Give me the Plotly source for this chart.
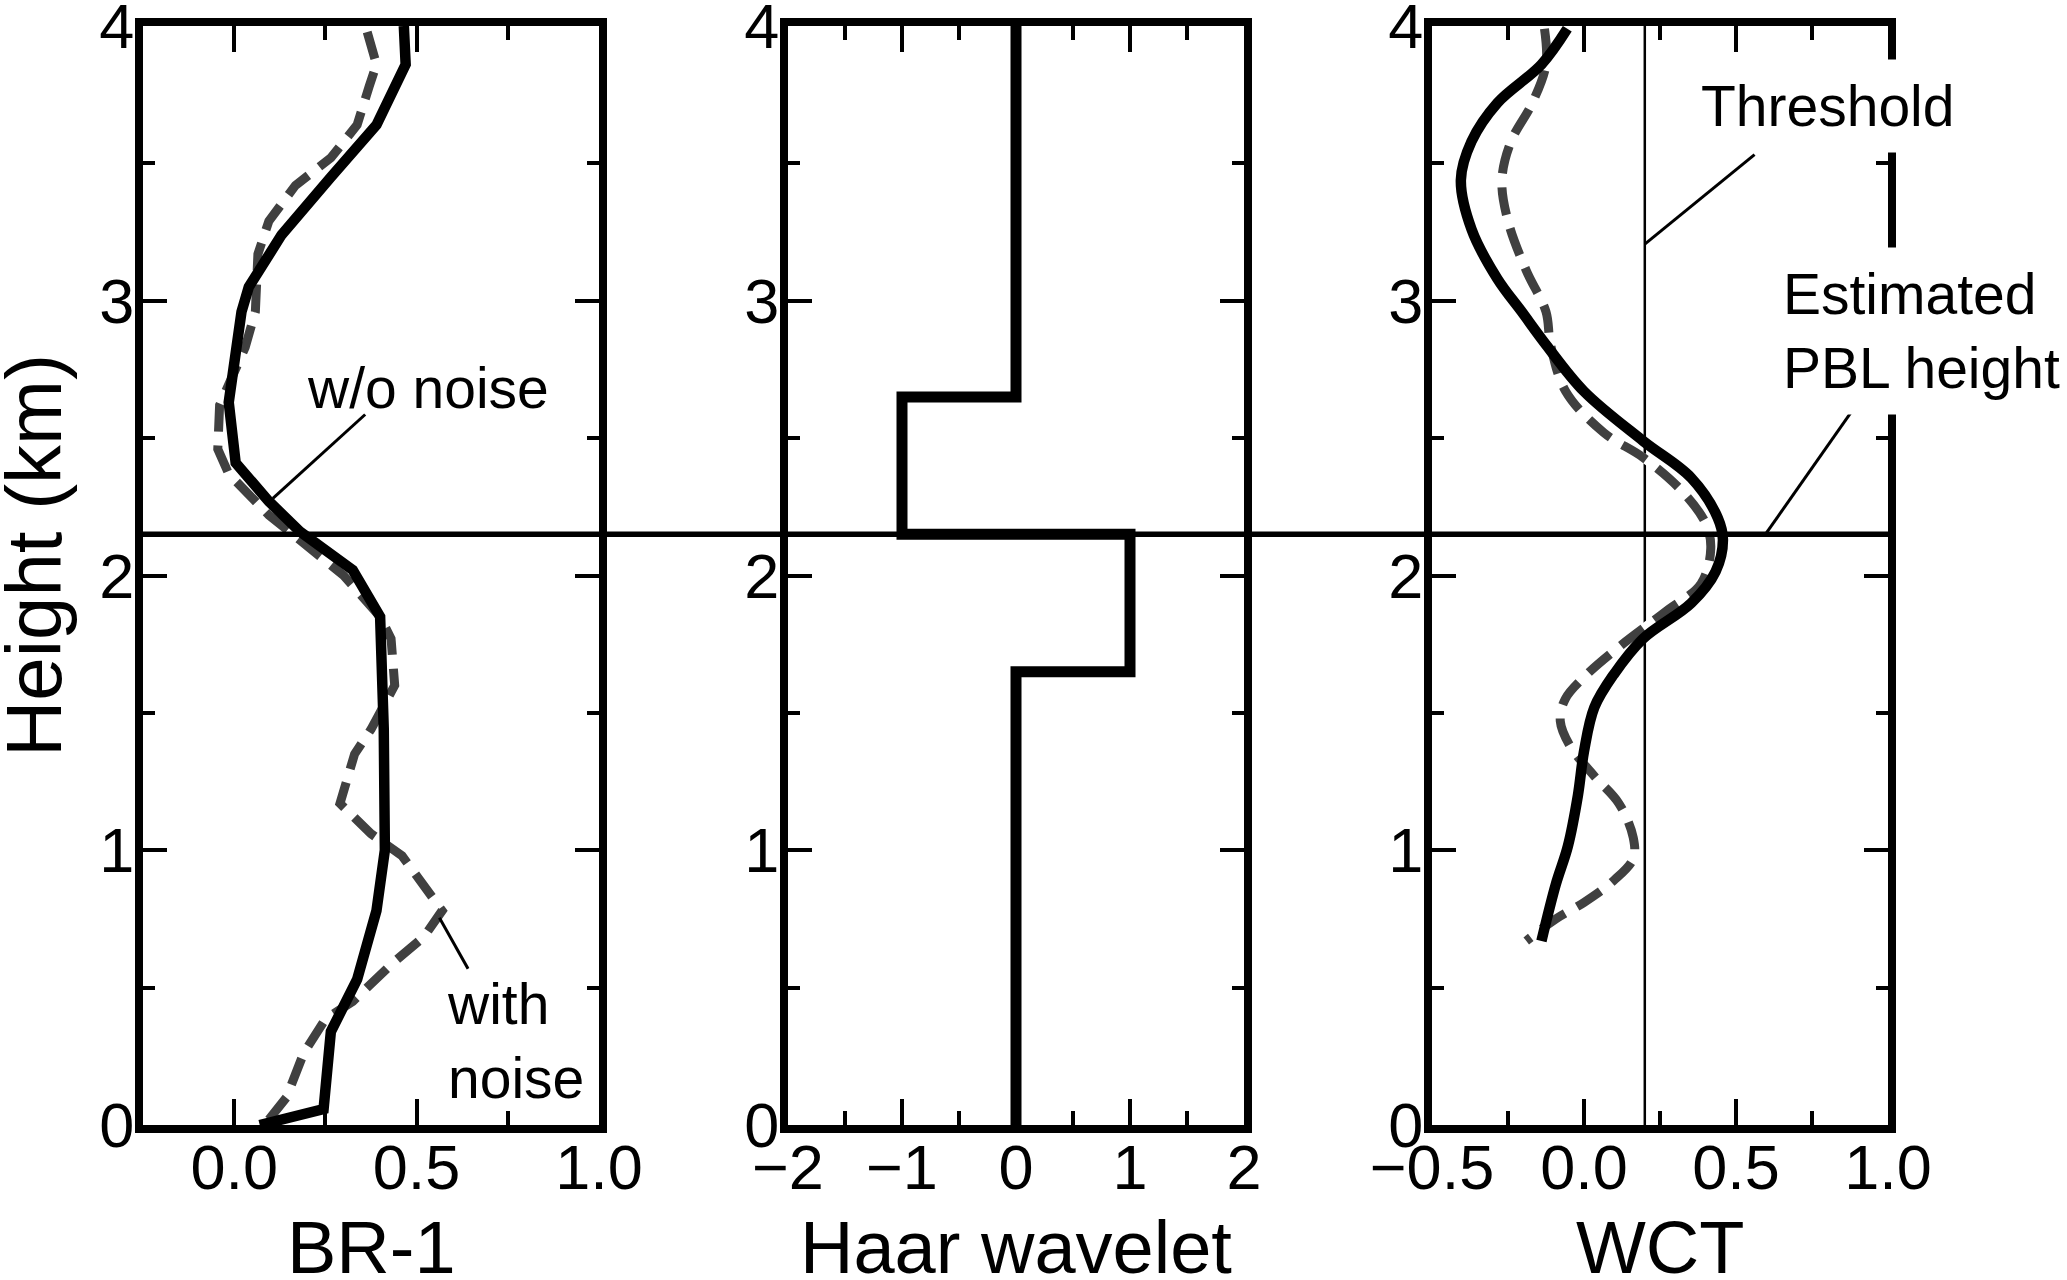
import plotly.graph_objects as go

# ---------------- data ----------------
# Panel 1: BR-1 profiles (height in km)
br_clean_height = [0.0, 0.058, 0.34, 0.40, 0.53, 0.78, 1.0, 1.44, 1.80, 1.85, 2.02, 2.16, 2.27, 2.41,
                   2.63, 2.96, 3.05, 3.24, 3.45, 3.64, 3.86, 4.0]
br_clean = [0.07, 0.245, 0.265, 0.29, 0.337, 0.39, 0.413, 0.41, 0.40, 0.40, 0.325, 0.18, 0.095, 0.004,
            -0.015, 0.02, 0.04, 0.13, 0.265, 0.39, 0.47, 0.465]
br_noisy_height = [0.02, 0.10, 0.26, 0.386, 0.45, 0.59, 0.685, 0.78, 0.98, 1.06, 1.17, 1.35, 1.44, 1.60,
                   1.77, 1.85, 2.0, 2.12, 2.22, 2.37, 2.46, 2.62, 2.83, 2.96, 3.17, 3.29, 3.42, 3.52,
                   3.64, 3.78, 3.86, 4.0]
br_noisy = [0.095, 0.143, 0.19, 0.25, 0.325, 0.435, 0.52, 0.57, 0.46, 0.375, 0.29, 0.33, 0.375, 0.44,
            0.43, 0.40, 0.30, 0.19, 0.095, -0.015, -0.045, -0.04, 0.03, 0.058, 0.065, 0.095, 0.168, 0.265,
            0.337, 0.37, 0.39, 0.36]

# Panel 2: Haar wavelet
haar_height = [4.0, 2.65, 2.65, 2.15, 2.15, 1.65, 1.65, 0.0]
haar_value = [0, 0, -1, -1, 1, 1, 0, 0]

# Panel 3: wavelet covariance transform
wct_clean_height = [3.99, 3.86, 3.72, 3.58, 3.44, 3.26, 3.08, 2.96, 2.84, 2.67, 2.49, 2.355, 2.21, 2.13,
                    2.015, 1.90, 1.77, 1.64, 1.52, 1.36, 1.20, 1.015, 0.875, 0.67]
wct_clean = [-0.055, -0.14, -0.285, -0.37, -0.405, -0.37, -0.285, -0.205, -0.125, 0.0, 0.194, 0.353,
             0.44, 0.457, 0.433, 0.353, 0.194, 0.098, 0.034, 0.0, -0.02, -0.053, -0.093, -0.14]
wct_noisy_height = [3.99, 3.86, 3.72, 3.58, 3.44, 3.29, 3.11, 2.96, 2.84, 2.67, 2.52, 2.43, 2.31, 2.19,
                    2.10, 1.97, 1.87, 1.74, 1.63, 1.55, 1.47, 1.38, 1.27, 1.17, 1.046, 0.97, 0.89, 0.81,
                    0.75, 0.67]
wct_noisy = [-0.13, -0.125, -0.17, -0.24, -0.27, -0.25, -0.19, -0.125, -0.11, -0.06, 0.065, 0.194, 0.32,
             0.40, 0.417, 0.385, 0.27, 0.115, 0.0, -0.062, -0.078, -0.046, 0.034, 0.115, 0.162, 0.162,
             0.098, 0.0, -0.093, -0.19]

threshold = 0.2
pbl_height = 2.15

y_ticks = [0, 1, 2, 3, 4]
y_minor = [0.5, 1.5, 2.5, 3.5]
x1_ticks, x1_text, x1_minor = [0.0, 0.5, 1.0], ["0.0", "0.5", "1.0"], [0.25, 0.75]
x2_ticks, x2_text, x2_minor = [-2, -1, 0, 1, 2], ["\u22122", "\u22121", "0", "1", "2"], [-1.5, -0.5, 0.5, 1.5]
x3_ticks, x3_text, x3_minor = [-0.5, 0.0, 0.5, 1.0], ["\u22120.5", "0.0", "0.5", "1.0"], [-0.25, 0.25, 0.75]

# ---------------- layout helpers ----------------
W, H = 2067, 1280
FONT = "Liberation Sans, Arial, Helvetica, sans-serif"


def px(x):
    return x / W


def py(y):
    return 1 - y / H


panels_px = [(141, 601), (786, 1246), (1430, 1890)]
ytop, ybot = 24, 1127
inset = 2

fig = go.Figure()

DASH_COLOR = "#404040"
dash_pat = "28px,14px"

# panel 3 threshold line
fig.add_trace(go.Scatter(x=[threshold, threshold], y=[0, 4], mode="lines",
                         line=dict(color="black", width=2.5), xaxis="x3", yaxis="y3",
                         showlegend=False, hoverinfo="skip"))

# noisy (dashed) profiles with white underlay
for xs, ys, xa, ya, shape in [(br_noisy, br_noisy_height, "x", "y", "linear"),
                              (wct_noisy, wct_noisy_height, "x3", "y3", "spline")]:
    fig.add_trace(go.Scatter(x=xs, y=ys, mode="lines",
                             line=dict(color="white", width=9, shape=shape),
                             xaxis=xa, yaxis=ya, showlegend=False, hoverinfo="skip"))
    fig.add_trace(go.Scatter(x=xs, y=ys, mode="lines", name="with noise",
                             line=dict(color=DASH_COLOR, width=9, dash=dash_pat, shape=shape),
                             xaxis=xa, yaxis=ya, showlegend=False))

# clean (solid) profiles
fig.add_trace(go.Scatter(x=br_clean, y=br_clean_height, mode="lines", name="w/o noise",
                         line=dict(color="black", width=10.5), xaxis="x", yaxis="y", showlegend=False))
fig.add_trace(go.Scatter(x=haar_value, y=haar_height, mode="lines", name="Haar",
                         line=dict(color="black", width=11), xaxis="x2", yaxis="y2", showlegend=False))
fig.add_trace(go.Scatter(x=wct_clean, y=wct_clean_height, mode="lines", name="w/o noise",
                         line=dict(color="black", width=10.5, shape="spline"),
                         xaxis="x3", yaxis="y3", showlegend=False))

axis_common = dict(showgrid=False, zeroline=False, showline=True, linecolor="black", linewidth=8,
                   mirror="ticks", ticks="inside", ticklen=26, tickwidth=3.5, tickcolor="black",
                   tickfont=dict(family=FONT, size=63, color="black"), fixedrange=True,
                   automargin=False, ticklabeloverflow="allow")

layout = dict(width=W, height=H, margin=dict(l=0, r=0, t=0, b=0, pad=0, autoexpand=False),
              paper_bgcolor="white", plot_bgcolor="white", showlegend=False,
              font=dict(family=FONT, color="black"))

xt = [(x1_ticks, x1_text, x1_minor, [-0.25, 1.0]),
      (x2_ticks, x2_text, x2_minor, [-2, 2]),
      (x3_ticks, x3_text, x3_minor, [-0.5, 1.0])]
for i, ((l, r), (tv, tt, mv, rng)) in enumerate(zip(panels_px, xt)):
    sfx = "" if i == 0 else str(i + 1)
    layout["xaxis" + sfx] = dict(axis_common, domain=[px(l + inset), px(r - inset)], range=rng,
                                 tickmode="array", tickvals=tv, ticktext=tt,
                                 anchor="y" + sfx, ticklabelstandoff=-20,
                                 minor=dict(tickmode="array", tickvals=mv, ticks="inside", ticklen=14,
                                            tickwidth=3.5, tickcolor="black"))
    layout["yaxis" + sfx] = dict(axis_common, domain=[py(ybot - inset), py(ytop + inset)], range=[0, 4],
                                 tickmode="array", tickvals=y_ticks, ticktext=[str(v) for v in y_ticks],
                                 anchor="x" + sfx, ticklen=24, ticklabelstandoff=-12,
                                 minor=dict(tickmode="array", tickvals=y_minor, ticks="inside", ticklen=12,
                                            tickwidth=3.5, tickcolor="black"))

fig.update_layout(**layout)

# PBL height line across all panels
fig.add_shape(type="line", xref="paper", yref="y", x0=px(panels_px[0][0]), x1=px(panels_px[2][1]),
              y0=pbl_height, y1=pbl_height, line=dict(color="black", width=5.5), layer="above")

# leader lines
leaders = [("x", "y", 0.359, 2.586, 0.106, 2.281),
           ("x", "y", 0.5625, 0.754, 0.641, 0.569),
           ("x3", "y3", 0.561, 3.532, threshold, 3.206),
           ("x3", "y3", 0.887, 2.607, 0.60, 2.155)]
for xr, yr, x0, y0, x1, y1 in leaders:
    fig.add_shape(type="line", xref=xr, yref=yr, x0=x0, y0=y0, x1=x1, y1=y1,
                  line=dict(color="black", width=3), layer="above")

ann_font = dict(family=FONT, size=57, color="black")
fig.add_annotation(x=0.53, y=2.684, xref="x", yref="y", text="w/o noise", showarrow=False,
                   font=ann_font, xanchor="center", yanchor="middle")
fig.add_annotation(x=0.579, y=0.305, xref="x", yref="y", text="with<br>noise", showarrow=False,
                   font=ann_font, xanchor="left", yanchor="middle", align="left")
fig.add_annotation(x=px(1700 - 14), y=py(106), xref="paper", yref="paper", text="Threshold",
                   showarrow=False, font=ann_font, xanchor="left", yanchor="middle",
                   bgcolor="white", borderpad=14)
fig.add_annotation(x=px(1782 - 14), y=py(331), xref="paper", yref="paper", text="Estimated<br>PBL height",
                   showarrow=False, font=ann_font, xanchor="left", yanchor="middle", align="left",
                   bgcolor="white", borderpad=14)

# axis titles
title_font = dict(family=FONT, size=74, color="black")
for cx, txt in [(371, "BR-1"), (1016, "Haar wavelet"), (1660, "WCT")]:
    fig.add_annotation(x=px(cx), y=py(1247), xref="paper", yref="paper", text=txt, showarrow=False,
                       font=title_font, xanchor="center", yanchor="middle")
fig.add_annotation(x=px(34), y=py(556), xref="paper", yref="paper", text="Height (km)", showarrow=False,
                   font=dict(family=FONT, size=78, color="black"), textangle=-90,
                   xanchor="center", yanchor="middle")

fig.write_html("out.html", config={"displayModeBar": False},
               post_script="document.body.style.margin='0';")
